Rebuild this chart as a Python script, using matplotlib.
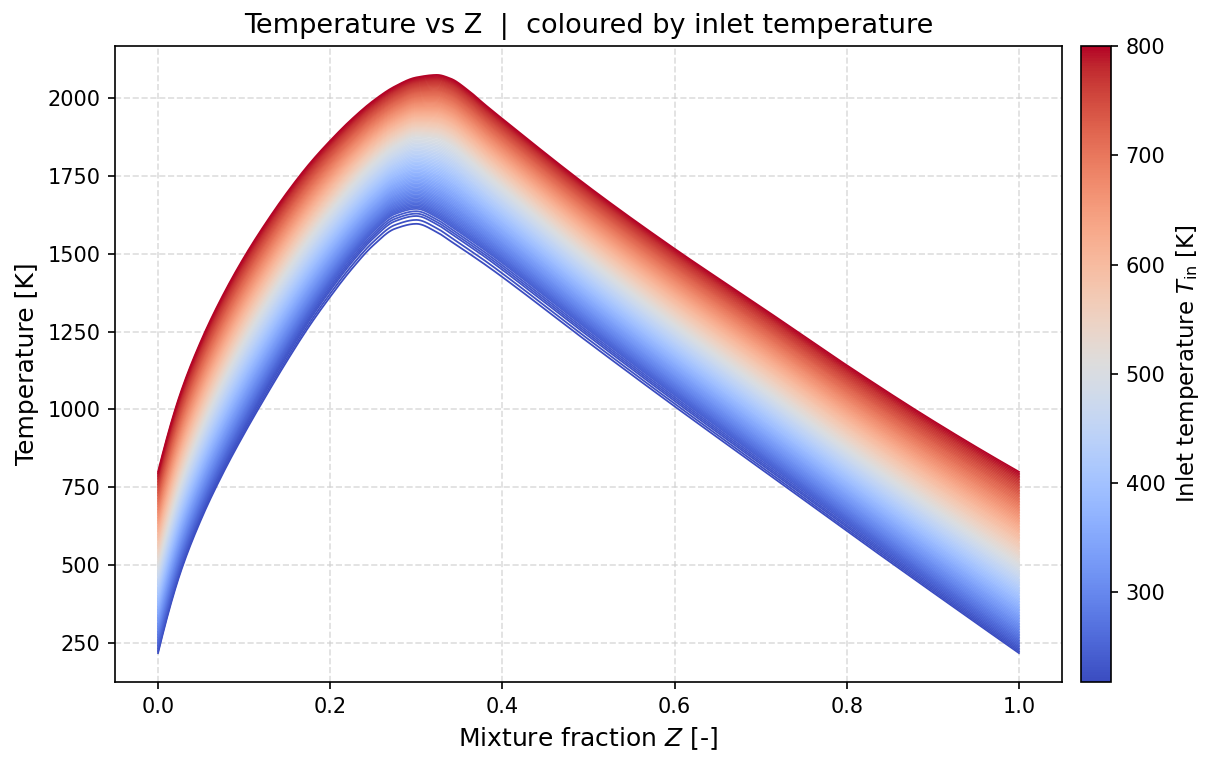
import numpy as np
import matplotlib
matplotlib.use("Agg")
import matplotlib.pyplot as plt
from matplotlib.colors import Normalize
from matplotlib.cm import ScalarMappable

# ---- data ----
z_knots = [0.0, 0.025, 0.05, 0.075, 0.1, 0.125, 0.15, 0.175, 0.2, 0.225, 0.25,
           0.275, 0.3, 0.324, 0.34, 0.36, 0.38, 0.4, 0.5, 0.6, 0.7, 0.8, 0.9, 1.0]

# reference curves (temperature [K]) for a few inlet temperatures
tin_ref = [218, 228, 243, 509, 800]
T_218 = [218, 468, 647, 793, 922, 1042, 1157, 1265, 1362, 1451, 1527,
         1580, 1596, 1569, 1540, 1503, 1465, 1425, 1215, 1010, 810, 610, 413, 218]
T_228 = [228, 479, 660, 807, 937, 1059, 1174, 1283, 1382, 1472, 1549,
         1604, 1621, 1594, 1565, 1527, 1489, 1448, 1235, 1027, 825, 623, 424, 228]
T_243 = [243, 495, 676, 824, 955, 1077, 1193, 1302, 1402, 1493, 1571,
         1627, 1644, 1617, 1588, 1550, 1511, 1470, 1255, 1046, 843, 640, 440, 243]
T_509 = [509, 762, 945, 1096, 1228, 1345, 1454, 1554, 1643, 1725, 1796,
         1850, 1878, 1872, 1853, 1811, 1763, 1717, 1488, 1278, 1080, 881, 691, 509]
T_800 = [800, 1044, 1221, 1365, 1489, 1598, 1697, 1786, 1863, 1932, 1991,
         2037, 2066, 2074, 2062, 2025, 1978, 1933, 1715, 1516, 1330, 1142, 964, 800]

tin_min, tin_max, n_lines = 218, 800, 117
inlet_T = np.linspace(tin_min, tin_max, n_lines)


def pchip(x, y, xn):
    """Shape-preserving piecewise cubic Hermite interpolation (smooth curve through read points)."""
    x = np.asarray(x, float)
    y = np.asarray(y, float)
    h = np.diff(x)
    d = np.diff(y) / h
    n = len(x)
    m = np.zeros(n)
    for k in range(1, n - 1):
        if d[k - 1] * d[k] > 0:
            w1 = 2 * h[k] + h[k - 1]
            w2 = h[k] + 2 * h[k - 1]
            m[k] = (w1 + w2) / (w1 / d[k - 1] + w2 / d[k])
    m[0] = ((2 * h[0] + h[1]) * d[0] - h[0] * d[1]) / (h[0] + h[1])
    if np.sign(m[0]) != np.sign(d[0]):
        m[0] = 0
    m[-1] = ((2 * h[-1] + h[-2]) * d[-1] - h[-1] * d[-2]) / (h[-1] + h[-2])
    if np.sign(m[-1]) != np.sign(d[-1]):
        m[-1] = 0
    idx = np.clip(np.searchsorted(x, xn) - 1, 0, n - 2)
    t = (xn - x[idx]) / h[idx]
    h00 = 2 * t**3 - 3 * t**2 + 1
    h10 = t**3 - 2 * t**2 + t
    h01 = -2 * t**3 + 3 * t**2
    h11 = t**3 - t**2
    return h00 * y[idx] + h10 * h[idx] * m[idx] + h01 * y[idx + 1] + h11 * h[idx] * m[idx + 1]


# ---- build family of curves ----
ref = np.array([T_218, T_228, T_243, T_509, T_800], dtype=float)
z_fine = np.linspace(0, 1, 801)
ref_fine = np.array([pchip(z_knots, r, z_fine) for r in ref])

fig = plt.figure(figsize=(1217 / 150, 767 / 150), dpi=150)
ax = fig.add_axes([115 / 1217, 1 - 682 / 767, (1062 - 115) / 1217, (682 - 46) / 767])
cax = fig.add_axes([1081 / 1217, 1 - 682 / 767, 30 / 1217, (682 - 46) / 767])

cmap = plt.get_cmap("coolwarm")
norm = Normalize(vmin=tin_min, vmax=tin_max)

for tin in inlet_T:
    curve = np.array([np.interp(tin, tin_ref, ref_fine[:, j]) for j in range(len(z_fine))])
    ax.plot(z_fine, curve, color=cmap(norm(tin)), lw=0.85)

ax.grid(True, ls="--", color="#d0d0d0", alpha=0.7, lw=0.8)
ax.set_axisbelow(True)
ax.set_xlabel("Mixture fraction $Z$ [-]", fontsize=12)
ax.set_ylabel("Temperature [K]", fontsize=12)
ax.set_title("Temperature vs Z  |  coloured by inlet temperature", fontsize=13)
ax.tick_params(labelsize=10)

sm = ScalarMappable(norm=norm, cmap=cmap)
cb = fig.colorbar(sm, cax=cax)
cb.set_label("Inlet temperature $T_\\mathrm{in}$ [K]", fontsize=11)
cb.ax.tick_params(labelsize=10)

fig.savefig("out.png", dpi=150)
